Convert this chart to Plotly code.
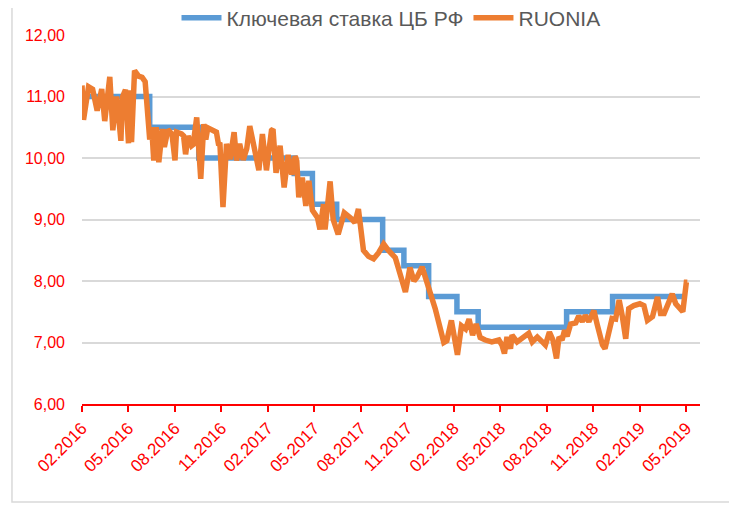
import pandas as pd
import plotly.graph_objects as go

# Key rate of the Bank of Russia (step changes)
key_dates = ["2016-02-01", "2016-06-14", "2016-09-19", "2017-03-27", "2017-05-02",
             "2017-06-19", "2017-09-18", "2017-10-30", "2017-12-18", "2018-02-12",
             "2018-03-26", "2018-09-17", "2018-12-17", "2019-05-13"]
key_rates = [11.00, 10.50, 10.00, 9.75, 9.25, 9.00, 8.50, 8.25, 7.75, 7.50,
             7.25, 7.50, 7.75, 7.75]

# RUONIA: days since 2016-02-01 and values
ruonia_start = "2016-02-01"
ruonia_day = [0, 3, 13, 21, 30, 39, 45, 55, 61, 68, 71, 77, 80, 86, 92, 95, 98, 104, 112, 119,
              125, 130, 134, 138, 142, 147, 152, 159, 163, 170, 178, 184, 187, 197, 201, 205, 210,
              217, 220, 227, 235, 241, 245, 249, 260, 266, 270, 273, 279, 286, 293, 301, 306,
              312, 319, 326, 332, 342, 350, 357, 365, 375, 378, 384, 392, 400, 408, 415, 422,
              425, 429, 436, 443, 449, 456, 466, 471, 478, 481, 491, 497, 507, 519, 531, 540,
              547, 557, 567, 577, 587, 597, 606, 620, 640, 649, 657, 663, 673, 686, 699, 716,
              722, 731, 743, 751, 759, 766, 773, 780, 788, 798, 811, 825, 831, 836, 841, 848,
              851, 861, 867, 877, 884, 891, 901, 911, 917, 925, 932, 939, 944, 950, 955, 960,
              967, 977, 983, 990, 996, 1003, 1013, 1020, 1030, 1035, 1043, 1049, 1056, 1063,
              1069, 1076, 1082, 1092, 1104, 1112, 1119, 1129, 1139, 1145, 1152, 1159, 1168,
              1175, 1185, 1189, 1196, 1198]
ruonia = [11.18, 10.62, 11.16, 11.12, 10.77, 11.12, 10.60, 11.32, 10.45, 11.00, 10.80, 10.28,
          10.99, 11.11, 10.24, 11.10, 10.26, 11.42, 11.33, 11.31, 11.24, 10.60, 10.30, 10.50,
          9.96, 10.50, 9.93, 10.47, 10.18, 10.46, 10.39, 9.96, 10.42, 10.39, 10.36, 10.06,
          10.36, 10.20, 10.22, 10.66, 9.66, 10.55, 10.30, 10.49, 10.45, 10.42, 10.23, 10.22,
          9.20, 10.23, 9.98, 10.42, 9.96, 10.23, 9.97, 10.15, 10.52, 10.14, 9.80, 10.39, 9.80,
          10.45, 10.47, 9.76, 10.20, 9.52, 10.05, 9.73, 10.03, 9.95, 9.36, 9.68, 9.22, 9.63,
          9.15, 9.03, 8.84, 9.25, 8.84, 9.62, 9.00, 8.76, 9.11, 9.03, 8.95, 9.17, 8.50, 8.40,
          8.36, 8.46, 8.60, 8.50, 8.38, 7.82, 8.22, 8.00, 8.06, 8.23, 7.92, 7.55, 7.00, 7.03,
          7.36, 6.80, 7.27, 7.22, 7.38, 7.12, 7.30, 7.08, 7.04, 7.01, 7.04, 6.96, 6.82, 7.09,
          6.90, 7.12, 7.01, 7.04, 7.09, 7.15, 7.01, 7.09, 7.01, 6.96, 7.17, 7.04, 6.74, 7.09,
          7.04, 7.20, 7.10, 7.30, 7.32, 7.43, 7.34, 7.44, 7.34, 7.52, 7.28, 6.96, 6.90, 7.21,
          7.39, 7.38, 7.69, 7.44, 7.06, 7.55, 7.60, 7.63, 7.60, 7.36, 7.42, 7.74, 7.47, 7.47,
          7.60, 7.79, 7.63, 7.52, 7.50, 7.98, 7.98]

ruonia_dates = pd.to_datetime(ruonia_start) + pd.to_timedelta(ruonia_day, unit="D")

fig = go.Figure()
fig.add_trace(go.Scatter(
    x=key_dates, y=key_rates, mode="lines", line_shape="hv",
    name="Ключевая ставка ЦБ РФ",
    line=dict(color="#5B9BD5", width=5.5),
))
fig.add_trace(go.Scatter(
    x=ruonia_dates, y=ruonia, mode="lines",
    name="RUONIA",
    line=dict(color="#ED7D31", width=5.5),
))

red = "#FF0000"
fig.update_layout(
    width=737, height=506,
    margin=dict(l=74, r=45, t=27, b=110, autoexpand=False),
    paper_bgcolor="white", plot_bgcolor="white",
    separators=", ",
    showlegend=True,
    legend=dict(orientation="h", x=0.5, xanchor="center", y=1.046, yanchor="middle",
                font=dict(family="Liberation Sans, Arial", size=21, color="#595959"),
                bgcolor="rgba(0,0,0,0)", itemwidth=40),
    font=dict(family="Liberation Sans, Arial"),
)
fig.update_xaxes(
    type="date", range=["2016-02-01", "2019-06-08"],
    tick0="2016-02-01", dtick=92 * 86400000, tickformat="%m.%Y",
    tickangle=-45, tickfont=dict(color=red, size=17),
    showline=True, linecolor=red, linewidth=1.5,
    ticks="outside", ticklen=6, tickcolor=red, tickwidth=1.5,
    showgrid=False, zeroline=False,
)
fig.update_yaxes(
    range=[6, 12], dtick=1, tickformat=".2f",
    tickfont=dict(color=red, size=16),
    showgrid=True, gridcolor="#D9D9D9", gridwidth=1.5,
    showline=False, zeroline=False, ticks="", ticklabelstandoff=16,
)
# outer chart frame
fig.add_shape(type="rect", xref="paper", yref="paper",
              x0=-0.1133, x1=1.050, y0=-0.2656, y1=1.2,
              line=dict(color="#D9D9D9", width=1.5), layer="below")

fig.write_html("out.html")
